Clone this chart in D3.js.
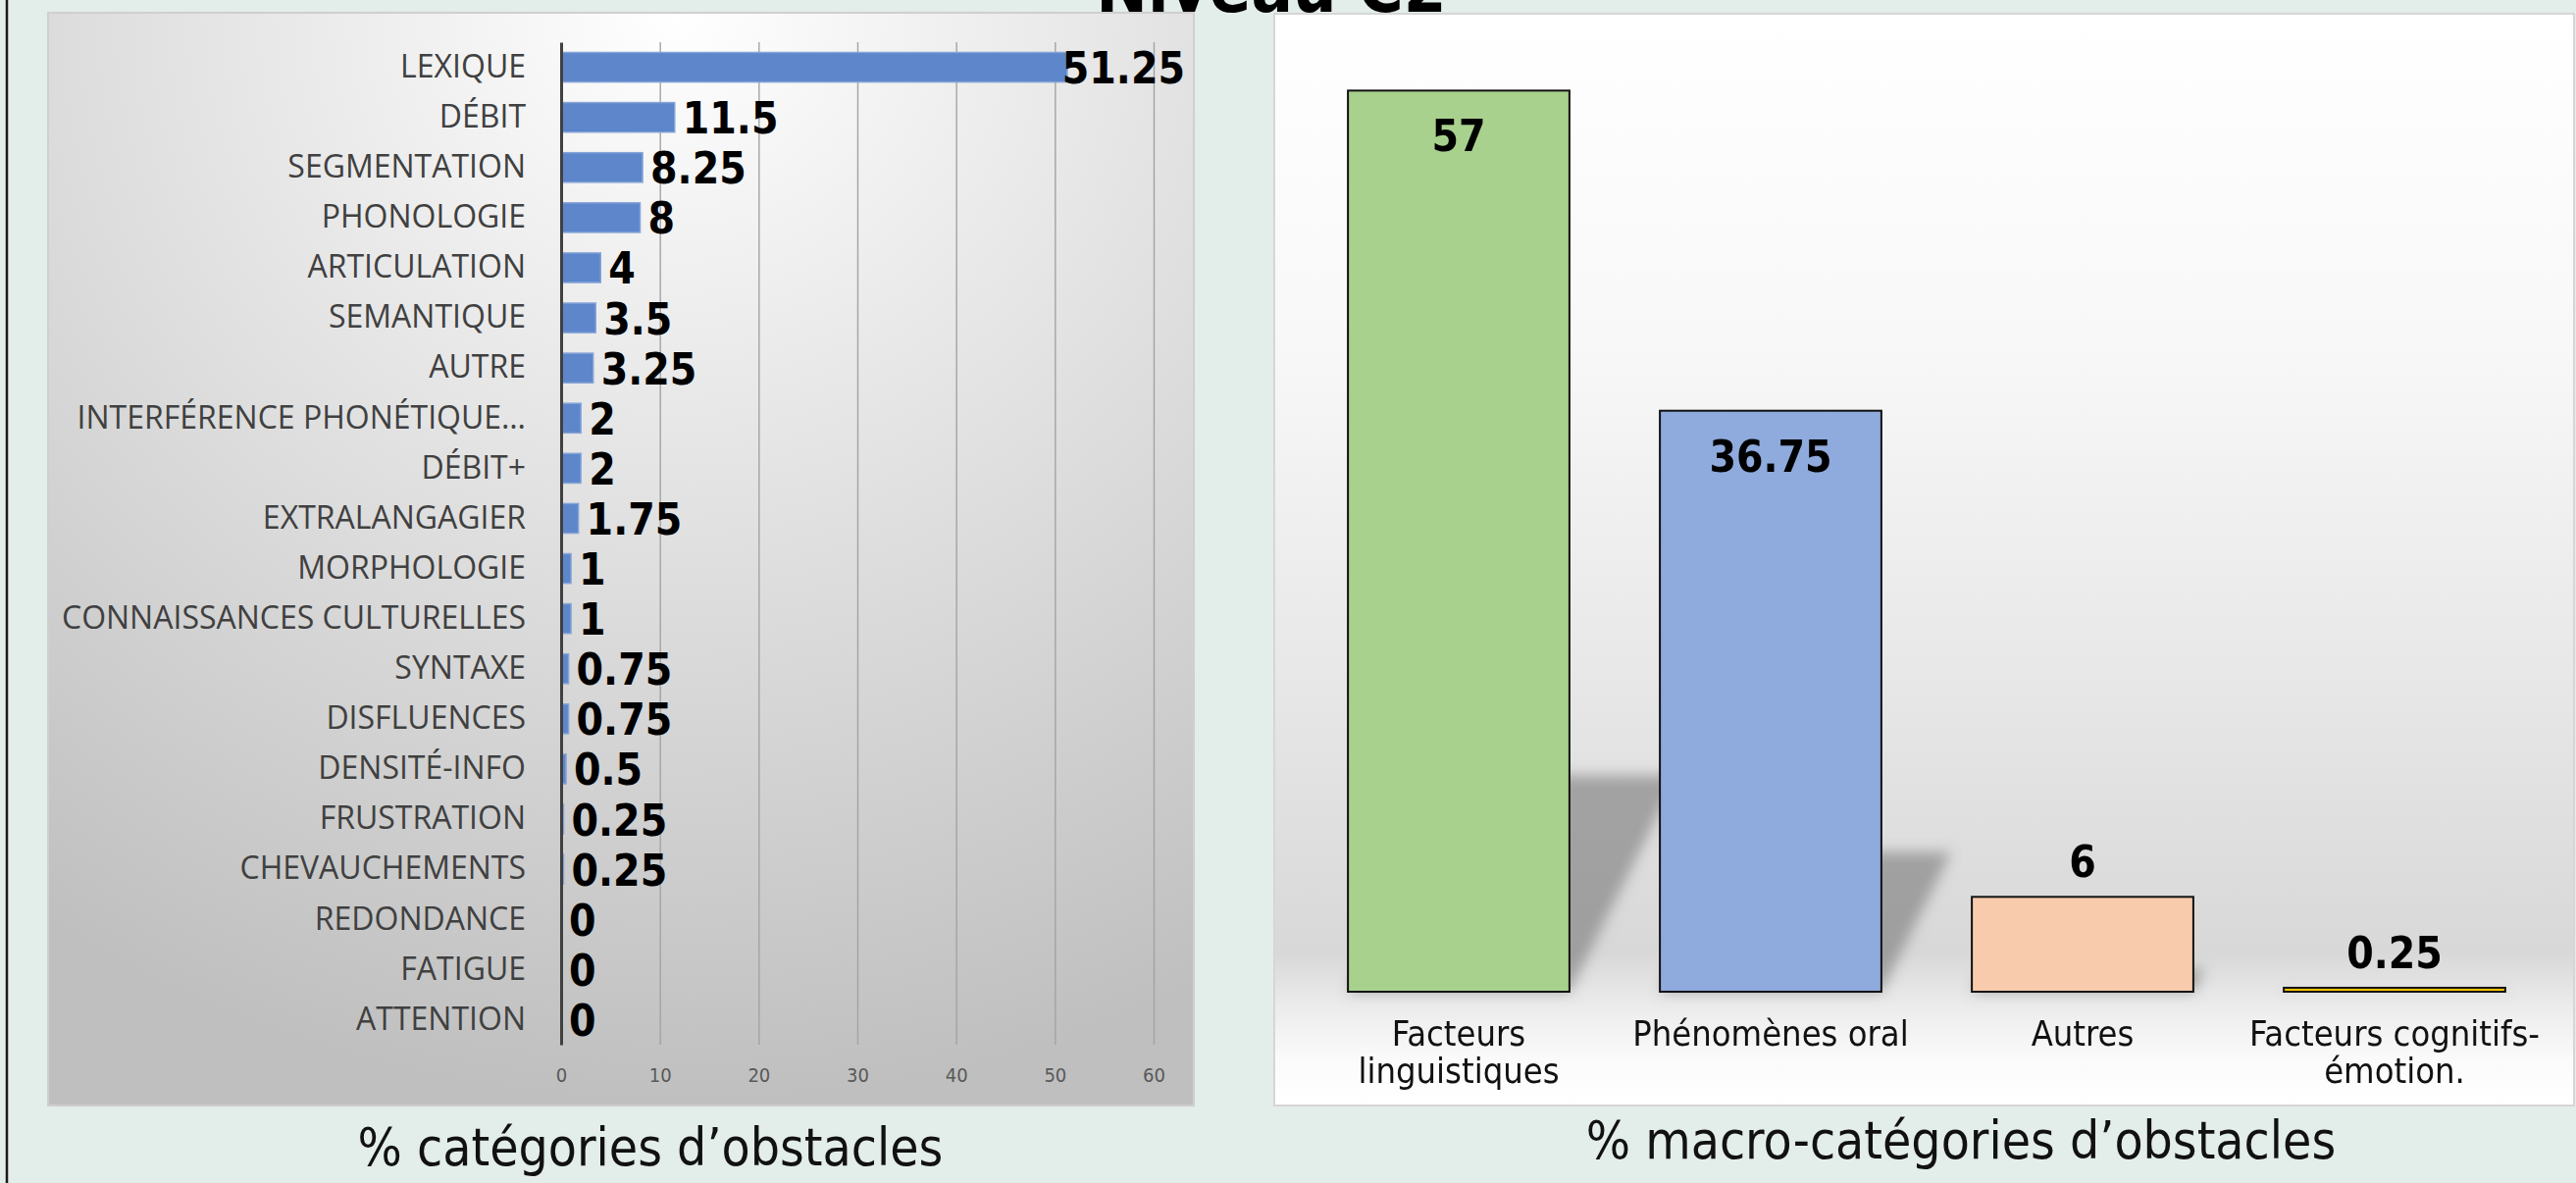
<!DOCTYPE html>
<html>
<head>
<meta charset="utf-8">
<script src="https://cdn.jsdelivr.net/npm/d3@7"></script>
<style>
  html, body { margin: 0; padding: 0; background: #E3EDE9; }
  svg { display: block; }
  .cond { font-family: "DejaVu Sans Condensed", "DejaVu Sans", sans-serif; font-stretch: condensed; }
</style>
</head>
<body>
<svg id="chart" width="2626" height="1206"></svg>
<script>
// ---------- DATA ----------
const pageTitle = "Niveau C2";
const leftTitle = "% catégories d’obstacles";
const rightTitle = "% macro-catégories d’obstacles";

const categories = ["LEXIQUE", "DÉBIT", "SEGMENTATION", "PHONOLOGIE", "ARTICULATION", "SEMANTIQUE", "AUTRE",
  "INTERFÉRENCE PHONÉTIQUE…", "DÉBIT+", "EXTRALANGAGIER", "MORPHOLOGIE", "CONNAISSANCES CULTURELLES",
  "SYNTAXE", "DISFLUENCES", "DENSITÉ-INFO", "FRUSTRATION", "CHEVAUCHEMENTS", "REDONDANCE", "FATIGUE", "ATTENTION"];
const categoryValues = [51.25, 11.5, 8.25, 8, 4, 3.5, 3.25, 2, 2, 1.75, 1, 1, 0.75, 0.75, 0.5, 0.25, 0.25, 0, 0, 0];
const categoryTicks = [0, 10, 20, 30, 40, 50, 60];

const macroCategories = ["Facteurs linguistiques", "Phénomènes oral", "Autres", "Facteurs cognitifs-émotion."];
const macroValues = [57, 36.75, 6, 0.25];
const macroColors = ["#A9D18E", "#8FAADC", "#F8CBAD", "#FFC000"];

// ---------- SETUP ----------
const svg = d3.select("#chart");
const W = 2626, H = 1206;
const defs = svg.append("defs");

// left panel gradient (radial)
const rg = defs.append("radialGradient").attr("id", "leftBg")
  .attr("cx", "0.55").attr("cy", "0").attr("r", "1").attr("fx", "0.55").attr("fy", "0");
rg.append("stop").attr("offset", "0").attr("stop-color", "#FFFFFF");
rg.append("stop").attr("offset", "1").attr("stop-color", "#BFBFBF");

// right panel gradient (vertical)
const lg = defs.append("linearGradient").attr("id", "rightBg").attr("x1", 0).attr("y1", 0).attr("x2", 0).attr("y2", 1);
[[0, "#FFFFFF"], [0.3, "#F8F8F8"], [0.6, "#E8E8E8"], [0.86, "#D8D8D8"], [0.91, "#ECECEC"], [0.96, "#FBFBFB"], [1, "#FFFFFF"]]
  .forEach(([o, c]) => lg.append("stop").attr("offset", o).attr("stop-color", c));

const blur = defs.append("filter").attr("id", "shadowBlur").attr("x", "-50%").attr("y", "-50%").attr("width", "200%").attr("height", "200%");
blur.append("feGaussianBlur").attr("stdDeviation", 7);

// page border line
svg.append("line").attr("x1", 7).attr("x2", 7).attr("y1", 0).attr("y2", H)
  .attr("stroke", "#1a1a1a").attr("stroke-width", 2.5);

// page title (partly cut off at top, as in the original slide)
svg.append("text").attr("class", "cond").attr("x", 1296).attr("y", 12)
  .attr("text-anchor", "middle").attr("font-size", 70).attr("font-weight", "bold").attr("fill", "#000")
  .text(pageTitle);

// ---------- LEFT CHART ----------
const LP = { x0: 49, y0: 13, x1: 1217, y1: 1127 };
svg.append("rect").attr("x", LP.x0).attr("y", LP.y0).attr("width", LP.x1 - LP.x0).attr("height", LP.y1 - LP.y0)
  .attr("fill", "url(#leftBg)").attr("stroke", "#CFCFCF").attr("stroke-width", 2);

const xL = d3.scaleLinear().domain([0, 60]).range([572, 1176]);
const yL = d3.scaleBand().domain(categories).range([43, 1065]).paddingInner(0.41).paddingOuter(0.205);

// gridlines
const grid = svg.append("g").attr("transform", `translate(0,${1065})`)
  .call(d3.axisBottom(xL).tickValues(categoryTicks.slice(1)).tickSize(-(1065 - 43)).tickFormat(""));
grid.select(".domain").remove();
grid.selectAll("line").attr("stroke", "#A3A3A3").attr("stroke-width", 1.4);

// tick labels
const xAx = svg.append("g").attr("transform", `translate(0,${1065})`)
  .call(d3.axisBottom(xL).tickValues(categoryTicks).tickSize(0).tickPadding(24));
xAx.select(".domain").remove();
xAx.selectAll("text").attr("class", "cond").attr("font-size", 20).attr("fill", "#595959");

// bars
svg.append("g").selectAll("rect").data(categoryValues).join("rect")
  .attr("x", xL(0)).attr("y", (d, i) => yL(categories[i]))
  .attr("width", d => Math.max(0, xL(d) - xL(0))).attr("height", yL.bandwidth())
  .attr("fill", "#5D86CB").attr("stroke", d => d > 0 ? "#86A4D8" : "none").attr("stroke-width", 1.5);

// y axis with category labels
const yAx = svg.append("g").attr("transform", `translate(${xL(0)},0)`)
  .call(d3.axisLeft(yL).tickSize(0).tickSizeOuter(0).tickPadding(36));
yAx.select(".domain").attr("stroke", "#404040").attr("stroke-width", 3);
yAx.selectAll("text").attr("font-family", "'Open Sans', sans-serif").attr("font-size", 32).attr("fill", "#404040");

// value labels
const plotRight = 1208;
svg.append("g").selectAll("text").data(categoryValues).join("text")
  .attr("class", "cond").attr("font-size", 44).attr("font-weight", "bold").attr("fill", "#000")
  .attr("dominant-baseline", "central")
  .attr("y", (d, i) => yL(categories[i]) + yL.bandwidth() / 2 + 1)
  .text(d => String(d))
  .each(function (d) {
    const w = this.getComputedTextLength();
    let x = xL(d) + 8;
    if (x + w > plotRight) x = plotRight - w;
    d3.select(this).attr("x", x);
  });

// left title
svg.append("text").attr("class", "cond").attr("x", 663).attr("y", 1188).attr("text-anchor", "middle")
  .attr("font-size", 53).attr("fill", "#111").text(leftTitle);

// ---------- RIGHT CHART ----------
const RP = { x0: 1299, y0: 14, x1: 2624, y1: 1127 };
svg.append("rect").attr("x", RP.x0).attr("y", RP.y0).attr("width", RP.x1 - RP.x0).attr("height", RP.y1 - RP.y0)
  .attr("fill", "url(#rightBg)").attr("stroke", "#D6D6D6").attr("stroke-width", 2);

const xR = d3.scaleBand().domain(macroCategories).range([1328, 2600]).paddingInner(0.29).paddingOuter(0.145);
const yR = d3.scaleLinear().domain([0, 60]).range([1011, 44]);

// perspective shadows
svg.append("g").attr("filter", "url(#shadowBlur)").selectAll("path").data(macroValues).join("path")
  .attr("d", (d, i) => {
    const x0 = xR(macroCategories[i]), x1 = x0 + xR.bandwidth();
    const yb = yR(0), h = 0.24 * (yR(0) - yR(d)), s = 0.5 * h;
    return `M${x0},${yb}L${x1},${yb}L${x1 + s},${yb - h}L${x0 + s},${yb - h}Z`;
  })
  .attr("fill", "#737373").attr("opacity", 0.58);

// bars
svg.append("g").selectAll("rect").data(macroValues).join("rect")
  .attr("x", (d, i) => xR(macroCategories[i])).attr("width", xR.bandwidth())
  .attr("y", d => yR(d)).attr("height", d => yR(0) - yR(d))
  .attr("fill", (d, i) => macroColors[i]).attr("stroke", "#111").attr("stroke-width", 2);

// value labels
svg.append("g").selectAll("text").data(macroValues).join("text")
  .attr("class", "cond").attr("font-size", 44).attr("font-weight", "bold").attr("fill", "#000")
  .attr("text-anchor", "middle")
  .attr("x", (d, i) => xR(macroCategories[i]) + xR.bandwidth() / 2)
  .attr("y", d => (yR(0) - yR(d)) > 150 ? yR(d) + 62 : yR(d) - 20)
  .text(d => String(d));

// category labels (wrapped)
function wrap(sel, maxW, lineH) {
  sel.each(function (d) {
    const t = d3.select(this); const x = t.attr("x");
    const tokens = [];
    d.split(" ").forEach((w, i) => {
      w.split(/(?<=-)/).forEach((p, j) => tokens.push({ p, sep: (j === 0 && i > 0) ? " " : "" }));
    });
    t.text(null);
    const tmp = t.append("tspan").attr("x", x);
    const lines = []; let cur = "";
    tokens.forEach(tok => {
      const cand = cur === "" ? tok.p : cur + tok.sep + tok.p;
      tmp.text(cand);
      if (tmp.node().getComputedTextLength() > maxW && cur !== "") { lines.push(cur); cur = tok.p; }
      else cur = cand;
    });
    lines.push(cur); tmp.remove();
    lines.forEach((l, i) => t.append("tspan").attr("x", x).attr("dy", i === 0 ? 0 : lineH).text(l));
  });
}
svg.append("g").selectAll("text").data(macroCategories).join("text")
  .attr("class", "cond").attr("font-size", 36).attr("fill", "#111").attr("text-anchor", "middle")
  .attr("x", d => xR(d) + xR.bandwidth() / 2).attr("y", 1066)
  .text(d => d)
  .call(wrap, 312, 38);

// right title
svg.append("text").attr("class", "cond").attr("x", 1999).attr("y", 1181).attr("text-anchor", "middle")
  .attr("font-size", 53).attr("fill", "#111").text(rightTitle);
</script>
</body>
</html>
